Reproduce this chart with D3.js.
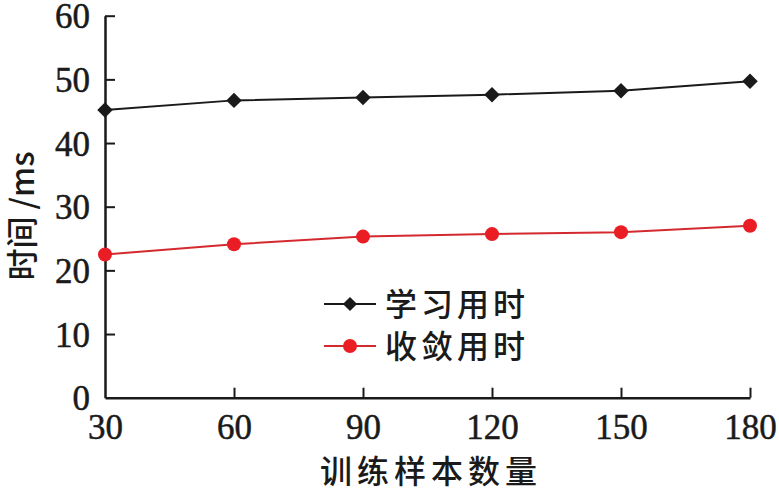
<!DOCTYPE html>
<html><head><meta charset="utf-8">
<script src="https://cdn.jsdelivr.net/npm/d3@7"></script>
<style>
body{margin:0;background:#fff;}
svg{display:block;}
.num{font-family:"Liberation Serif","Times New Roman",serif;font-size:35px;fill:#1a1a1a;stroke:#1a1a1a;stroke-width:0.5px;}
.cjk{font-family:"Noto Sans CJK SC",sans-serif;font-size:32px;font-weight:500;fill:#1a1a1a;}
</style></head>
<body>
<script>
const xValues = [30, 60, 90, 120, 150, 180];
const learnTime = [45.2, 46.7, 47.15, 47.6, 48.2, 49.7];
const convTime = [22.5, 24.1, 25.3, 25.7, 26.0, 27.0];
const yTicks = [0, 10, 20, 30, 40, 50, 60];
const seriesNames = ["学习用时", "收敛用时"];
const xTitle = "训练样本数量";
const yTitle = "时间 /ms";

const W = 779, H = 496;
const svg = d3.select("body").append("svg").attr("width", W).attr("height", H);
const x = d3.scaleLinear().domain([30, 180]).range([105, 750]);
const y = d3.scaleLinear().domain([0, 60]).range([397.7, 15.7]);

const xAxis = svg.append("g").attr("transform", `translate(0,${y(0)})`)
  .call(d3.axisBottom(x).tickValues(xValues).tickSize(-10).tickSizeOuter(0));
const yAxis = svg.append("g").attr("transform", `translate(${x(30)},0)`)
  .call(d3.axisLeft(y).tickValues(yTicks).tickSize(-10).tickSizeOuter(0).tickPadding(15));
[xAxis, yAxis].forEach(g => {
  g.select(".domain").attr("stroke", "#1a1a1a").attr("stroke-width", 2.5);
  g.selectAll(".tick line").attr("stroke", "#1a1a1a").attr("stroke-width", 2);
  g.selectAll(".tick text").attr("class", "num").attr("font-size", null).attr("font-family", null).attr("fill", null);
});
xAxis.selectAll(".tick text").attr("dy", null).attr("y", 41);
yAxis.selectAll(".tick text").attr("dy", "0.35em");
yAxis.selectAll(".tick").filter(d => d === 0).select("line").remove();
xAxis.selectAll(".tick").filter(d => d === 30).select("line").remove();

const line = d3.line().x((d, i) => x(xValues[i])).y(d => y(d));
svg.append("path").datum(learnTime).attr("d", line).attr("fill", "none").attr("stroke", "#1a1a1a").attr("stroke-width", 2);
svg.append("path").datum(convTime).attr("d", line).attr("fill", "none").attr("stroke", "#d42a2f").attr("stroke-width", 2);

svg.selectAll(".dm").data(learnTime).enter().append("path")
  .attr("d", d3.symbol().type(d3.symbolSquare).size(120))
  .attr("transform", (d, i) => `translate(${x(xValues[i])},${y(d)}) rotate(45)`)
  .attr("fill", "#1a1a1a");
svg.selectAll(".ci").data(convTime).enter().append("circle")
  .attr("cx", (d, i) => x(xValues[i])).attr("cy", d => y(d)).attr("r", 7)
  .attr("fill", "#ea1c24");

const lg = [{name: seriesNames[0], color: "#1a1a1a", y: 304, m: "d"}, {name: seriesNames[1], color: "#d42a2f", y: 346, m: "c"}];
lg.forEach(l => {
  svg.append("line").attr("x1", 324).attr("x2", 376).attr("y1", l.y).attr("y2", l.y).attr("stroke", l.color).attr("stroke-width", 2);
  if (l.m === "d") {
    svg.append("path").attr("d", d3.symbol().type(d3.symbolSquare).size(100)())
      .attr("transform", `translate(350,${l.y}) rotate(45)`).attr("fill", "#1a1a1a");
  } else {
    svg.append("circle").attr("cx", 350).attr("cy", l.y).attr("r", 7).attr("fill", "#ea1c24");
  }
  svg.append("text").attr("class", "cjk").attr("x", 385).attr("y", l.y).attr("dy", "0.36em")
    .attr("letter-spacing", "4px").text(l.name);
});

svg.append("text").attr("class", "cjk").attr("x", 320).attr("y", 471).attr("dy", "0.36em")
  .attr("font-size", "33px").attr("letter-spacing", "5px").text(xTitle);
svg.append("text").attr("class", "cjk").attr("transform", "translate(22,216) rotate(-90)")
  .attr("text-anchor", "middle").attr("dy", "0.36em").attr("font-size", "30px").text(yTitle);
</script>
</body></html>
